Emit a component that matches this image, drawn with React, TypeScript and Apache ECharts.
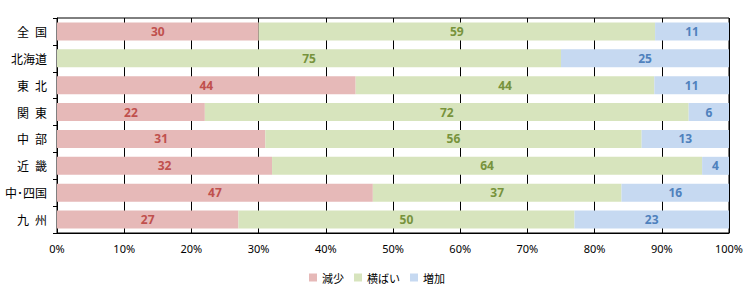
import React, { useEffect, useRef } from "react";
import * as echarts from "echarts";

const categories = ["全\u2002国", "北海道", "東\u2002北", "関\u2002東", "中\u2002部", "近\u2002畿", "中･四国", "九\u2002州"];
const seriesNames = ["減少", "横ばい", "増加"];
const decrease = [30, 0, 44, 22, 31, 32, 47, 27];
const flat = [59, 75, 44, 72, 56, 64, 37, 50];
const increase = [11, 25, 11, 6, 13, 4, 16, 23];
const fillColors = ["#e6b9b8", "#d7e4bd", "#c6d9f1"];
const labelColors = ["#c0504d", "#77933c", "#4f81bd"];

export default function App() {
  const ref = useRef<HTMLDivElement>(null);
  useEffect(() => {
    document.body.style.margin = "0";
    const chart = echarts.init(ref.current!, undefined, { renderer: "svg" });
    const raw = [decrease, flat, increase];
    const totals = categories.map((_, i) => decrease[i] + flat[i] + increase[i]);
    const yCats = [...categories].reverse();
    const series = raw.map((arr, s) => ({
      name: seriesNames[s],
      type: "bar",
      stack: "total",
      barWidth: "67%",
      itemStyle: { color: fillColors[s] },
      label: {
        show: true,
        position: "inside",
        color: labelColors[s],
        fontSize: 12,
        fontWeight: "bold",
        fontFamily: "Noto Sans",
        formatter: (p: any) => (p.data.raw > 0 ? String(p.data.raw) : ""),
      },
      data: [...arr]
        .map((v, i) => ({ value: (v / totals[i]) * 100, raw: v }))
        .reverse(),
    }));
    chart.setOption({
      animation: false,
      grid: {
        left: 57,
        right: 25,
        top: 18,
        bottom: 63,
        show: true,
        borderColor: "#000",
        borderWidth: 1,
      },
      legend: {
        bottom: 8,
        left: "center",
        itemWidth: 8,
        itemHeight: 8,
        itemGap: 10,
        icon: "rect",
        textStyle: { fontSize: 11, color: "#000", fontFamily: "Noto Sans CJK JP" },
        data: seriesNames,
      },
      xAxis: {
        type: "value",
        min: 0,
        max: 100,
        interval: 10,
        axisLine: { show: true, lineStyle: { color: "#000" } },
        axisTick: { show: false },
        splitLine: { show: true, lineStyle: { color: "#000", width: 1 } },
        axisLabel: {
          formatter: "{value}%",
          color: "#000",
          fontSize: 11,
          fontFamily: "Noto Sans",
          margin: 10,
        },
      },
      yAxis: {
        type: "category",
        data: yCats,
        axisLine: { show: true, lineStyle: { color: "#000" } },
        axisTick: { show: true, length: 4, inside: false, lineStyle: { color: "#000" } },
        axisLabel: {
          color: "#000",
          fontSize: 12,
          fontFamily: "Noto Sans CJK JP",
          margin: 10,
        },
      },
      series,
    });
    return () => chart.dispose();
  }, []);
  return <div ref={ref} style={{ width: 754, height: 296 }} />;
}
